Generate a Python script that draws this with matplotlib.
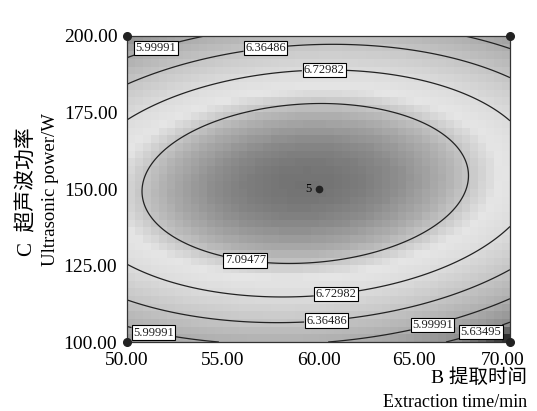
import numpy as np
import matplotlib
matplotlib.use("Agg")
import matplotlib.pyplot as plt
import matplotlib.transforms as mtransforms
from matplotlib.colors import LinearSegmentedColormap, Normalize

# coded quadratic response-surface model, x = (B-60)/10, y = (C-150)/50
b0 = 7.45
b_lin = [-0.075, 0.107]     # B, C
b_int = 0.16                # BC
b_sq = [-0.50, -1.33]       # B^2, C^2

levels = [5.63495, 5.99991, 6.36486, 6.72982, 7.09477]
time_ticks = [50, 55, 60, 65, 70]
power_ticks = [100, 125, 150, 175, 200]

# design points (B, C), center point replicated 5 times
design_time = [50, 70, 50, 70]
design_power = [100, 100, 200, 200]
center_time, center_power, center_reps = 60, 150, 5

# where the contour labels sit (B, C)
label_time = [51.4, 57.2, 60.3, 56.2, 60.9, 60.4, 65.9, 68.4, 51.4]
label_power = [198.5, 198.5, 190.8, 127.8, 116.7, 108.3, 106.9, 104.9, 103.9]

# grey shading of the response (like a greyscale print of the rainbow map)
shade_vals = [5.25, 5.4, 5.5, 5.64, 6.0, 6.36, 6.73, 6.95, 7.1, 7.25, 7.47]
shade_grey = [0.06, 0.22, 0.38, 0.56, 0.68, 0.77, 0.86, 0.90, 0.77, 0.64, 0.44]


def response(B, C):
    x = (B - 60.0) / 10.0
    y = (C - 150.0) / 50.0
    return (b0 + b_lin[0] * x + b_lin[1] * y + b_int * x * y
            + b_sq[0] * x ** 2 + b_sq[1] * y ** 2)


serif = ['Liberation Serif', 'Noto Sans CJK SC']
plt.rcParams['font.family'] = serif

fig = plt.figure(figsize=(5.37, 4.11), dpi=100)
ax = fig.add_axes([127 / 537, 1 - 342 / 411, 383 / 537, 306 / 411])

# coarse "pixelated" background
bx = np.linspace(50, 70, 49)
cy = np.linspace(100, 200, 41)
bc = (bx[:-1] + bx[1:]) / 2
cc = (cy[:-1] + cy[1:]) / 2
Zc = response(*np.meshgrid(bc, cc))
lo, hi = shade_vals[0], shade_vals[-1]
stops = [((v - lo) / (hi - lo), (g, g, g)) for v, g in zip(shade_vals, shade_grey)]
cmap = LinearSegmentedColormap.from_list('dx_grey', stops)
ax.pcolormesh(bx, cy, Zc, cmap=cmap, norm=Normalize(lo, hi), shading='flat')

# smooth contour lines
fb = np.linspace(50, 70, 300)
fc = np.linspace(100, 200, 300)
FB, FC = np.meshgrid(fb, fc)
cs = ax.contour(FB, FC, response(FB, FC), levels=levels, colors='#222222',
                linewidths=0.9)
labs = ax.clabel(cs, fmt=lambda v: f"{v:.5f}".rstrip('0'), fontsize=9,
                 inline=True, inline_spacing=2,
                 manual=list(zip(label_time, label_power)))
for t in labs:
    t.set_bbox(dict(boxstyle='square,pad=0.1', fc='white', ec='black', lw=0.8))
    t.set_rotation(0)

# design points
ax.plot(design_time, design_power, 'o', color='#222222', ms=5.5, clip_on=False,
        zorder=5)
ax.plot([center_time], [center_power], 'o', color='#222222', ms=4.5, zorder=5)
ax.text(center_time - 0.35, center_power, str(center_reps), ha='right',
        va='center', fontsize=9)

ax.set_xlim(50, 70)
ax.set_ylim(100, 200)
ax.set_xticks(time_ticks)
ax.set_yticks(power_ticks)
ax.set_xticklabels([f"{v:.2f}" for v in time_ticks], fontsize=14)
ax.set_yticklabels([f"{v:.2f}" for v in power_ticks], fontsize=14)
ax.tick_params(length=0, pad=7)
# last x label is pulled in a little, as in the original
last = ax.get_xticklabels()[-1]
last.set_transform(last.get_transform() +
                   mtransforms.ScaledTranslation(-7 / 100, 0, fig.dpi_scale_trans))
for s in ax.spines.values():
    s.set_color('#333333')
    s.set_linewidth(0.9)

fig.text(527 / 537, 1 - 378 / 411, "B 提取时间", ha='right', va='center',
         fontsize=14, family=serif)
fig.text(527 / 537, 1 - 402 / 411, "Extraction time/min", ha='right',
         va='center', fontsize=13, family=serif)
fig.text(27 / 537, 1 - 192 / 411, "C  超声波功率", rotation=90, ha='center',
         va='center', fontsize=15, family=serif)
fig.text(51 / 537, 1 - 190 / 411, "Ultrasonic power/W", rotation=90,
         ha='center', va='center', fontsize=13.5, family=serif)

fig.savefig("out.png", dpi=100)
